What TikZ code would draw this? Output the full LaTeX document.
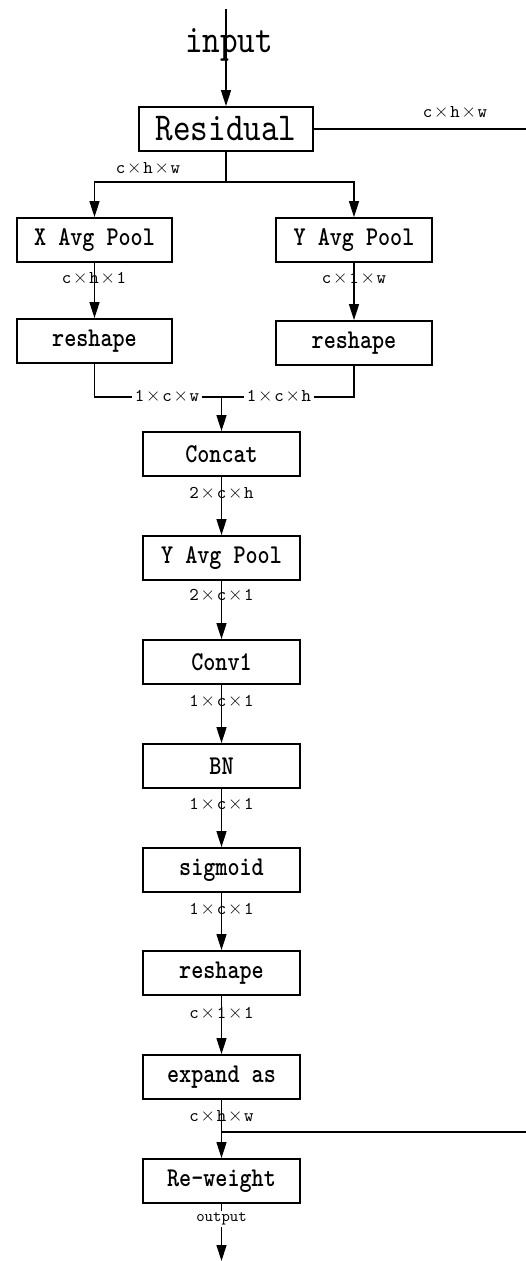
\documentclass[tikz,border=0pt]{standalone}
\usepackage{fontspec}
\usepackage{graphicx}
\usetikzlibrary{arrows.meta}
\newfontfamily\ttreg{lmmono10-regular.otf}
\newfontfamily\ttbold{lmmonolt10-bold.otf}
\newfontfamily\xfont{lmroman17-regular.otf}
% full-width multiplication sign used in the tensor shapes
\newcommand\tms{\makebox[18pt]{\xfont\fontsize{20}{20}\selectfont ×}}
\newcommand\tall[1]{\scalebox{1}[1.18]{#1}}
\tikzset{
  blk/.style={draw, line width=1.8pt, inner sep=0pt, minimum height=44pt,
    font=\ttbold\fontsize{23}{23}\selectfont},
  bigtxt/.style={inner sep=0pt, font=\ttreg\fontsize{33.5}{34}\selectfont},
  dim/.style={inner sep=1pt, font=\ttreg\fontsize{18}{18}\selectfont},
  dimw/.style={dim, fill=white, inner sep=2.5pt},
  ln/.style={line width=1.3pt},
  arr/.style={ln, -{Triangle[length=16pt,width=10pt]}}
}
\begin{document}
\begin{tikzpicture}[x=1pt,y=-1pt]
\useasboundingbox (0,0) rectangle (526,1261);

% input and residual block
\coordinate (top) at (226,9);
\node[blk, bigtxt, draw, line width=1.8pt, minimum width=174pt, minimum height=44pt] (res) at (226,129) {\tall{Residual}};
\draw[arr] (top) -- (res.north);
\node[bigtxt] (inp) at (229,45) {\tall{input}};
\coordinate (resE) at (526,129);
\draw[ln] (res.east) -- (resE);
\node[dim] (dres) at (455,112) {c\tms h\tms w};

% two pooling branches
\node[blk, minimum width=155pt] (xap) at (94.5,240) {\tall{X Avg Pool}};
\node[blk, minimum width=156pt] (yap) at (354,240) {\tall{Y Avg Pool}};
\node[blk, minimum width=155pt] (rsl) at (94.5,341) {\tall{reshape}};
\node[blk, minimum width=156pt] (rsr) at (354,343) {\tall{reshape}};

\coordinate (split) at (226,182);
\draw[ln] (res.south) -- (split);
\draw[arr] (split) -| (xap.north);
\draw[arr] (split) -| (yap.north);
\node[dim] (dsplit) at (148,168) {c\tms h\tms w};

\draw[arr] (xap) -- (rsl);
\draw[arr] (yap) -- (rsr);
\node[dim] (dxap) at (94,278) {c\tms h\tms 1};
\node[dim] (dyap) at (354,278) {c\tms 1\tms w};

% merge into the main column
\coordinate (merge) at (221.5,397);
\draw[ln] (rsl.south) |- (merge);
\draw[ln] (rsr.south) |- (merge);
\node[dimw] (dml) at (167,396) {1\tms c\tms w};
\node[dimw] (dmr) at (279,396) {1\tms c\tms h};

% main column
\node[blk, minimum width=157pt] (cat) at (221.5,454) {\tall{Concat}};
\node[blk, minimum width=157pt] (yap2) at (221.5,558) {\tall{Y Avg Pool}};
\node[blk, minimum width=157pt] (conv) at (221.5,662) {\tall{Conv1}};
\node[blk, minimum width=157pt] (bn) at (221.5,766) {\tall{BN}};
\node[blk, minimum width=157pt] (sig) at (221.5,870) {\tall{sigmoid}};
\node[blk, minimum width=157pt] (rs3) at (221.5,973) {\tall{reshape}};
\node[blk, minimum width=157pt] (exp) at (221.5,1077) {\tall{expand as}};
\node[blk, minimum width=157pt] (rw) at (221.5,1181) {\tall{Re-weight}};

\draw[arr] (merge) -- (cat.north);
\draw[arr] (cat) -- (yap2);
\draw[arr] (yap2) -- (conv);
\draw[arr] (conv) -- (bn);
\draw[arr] (bn) -- (sig);
\draw[arr] (sig) -- (rs3);
\draw[arr] (rs3) -- (exp);
\draw[arr] (exp) -- (rw);

\node[dim] (d1) at (221.5,493) {2\tms c\tms h};
\node[dim] (d2) at (221.5,595) {2\tms c\tms 1};
\node[dim] (d3) at (221.5,701) {1\tms c\tms 1};
\node[dim] (d4) at (221.5,804) {1\tms c\tms 1};
\node[dim] (d5) at (221.5,909) {1\tms c\tms 1};
\node[dim] (d6) at (221.5,1013) {c\tms 1\tms 1};
\node[dim] (d7) at (221.5,1116) {c\tms h\tms w};

% residual path joining before re-weighting
\coordinate (join) at (221.5,1132);
\coordinate (joinE) at (526,1132);
\draw[ln] (join) -- (joinE);

% output
\coordinate (out) at (221.5,1261);
\draw[arr] (rw) -- (out);
\node[dimw, font=\ttreg\fontsize{16}{16}\selectfont, inner sep=1.5pt] (dout) at (221.5,1219) {output};
\end{tikzpicture}
\end{document}
